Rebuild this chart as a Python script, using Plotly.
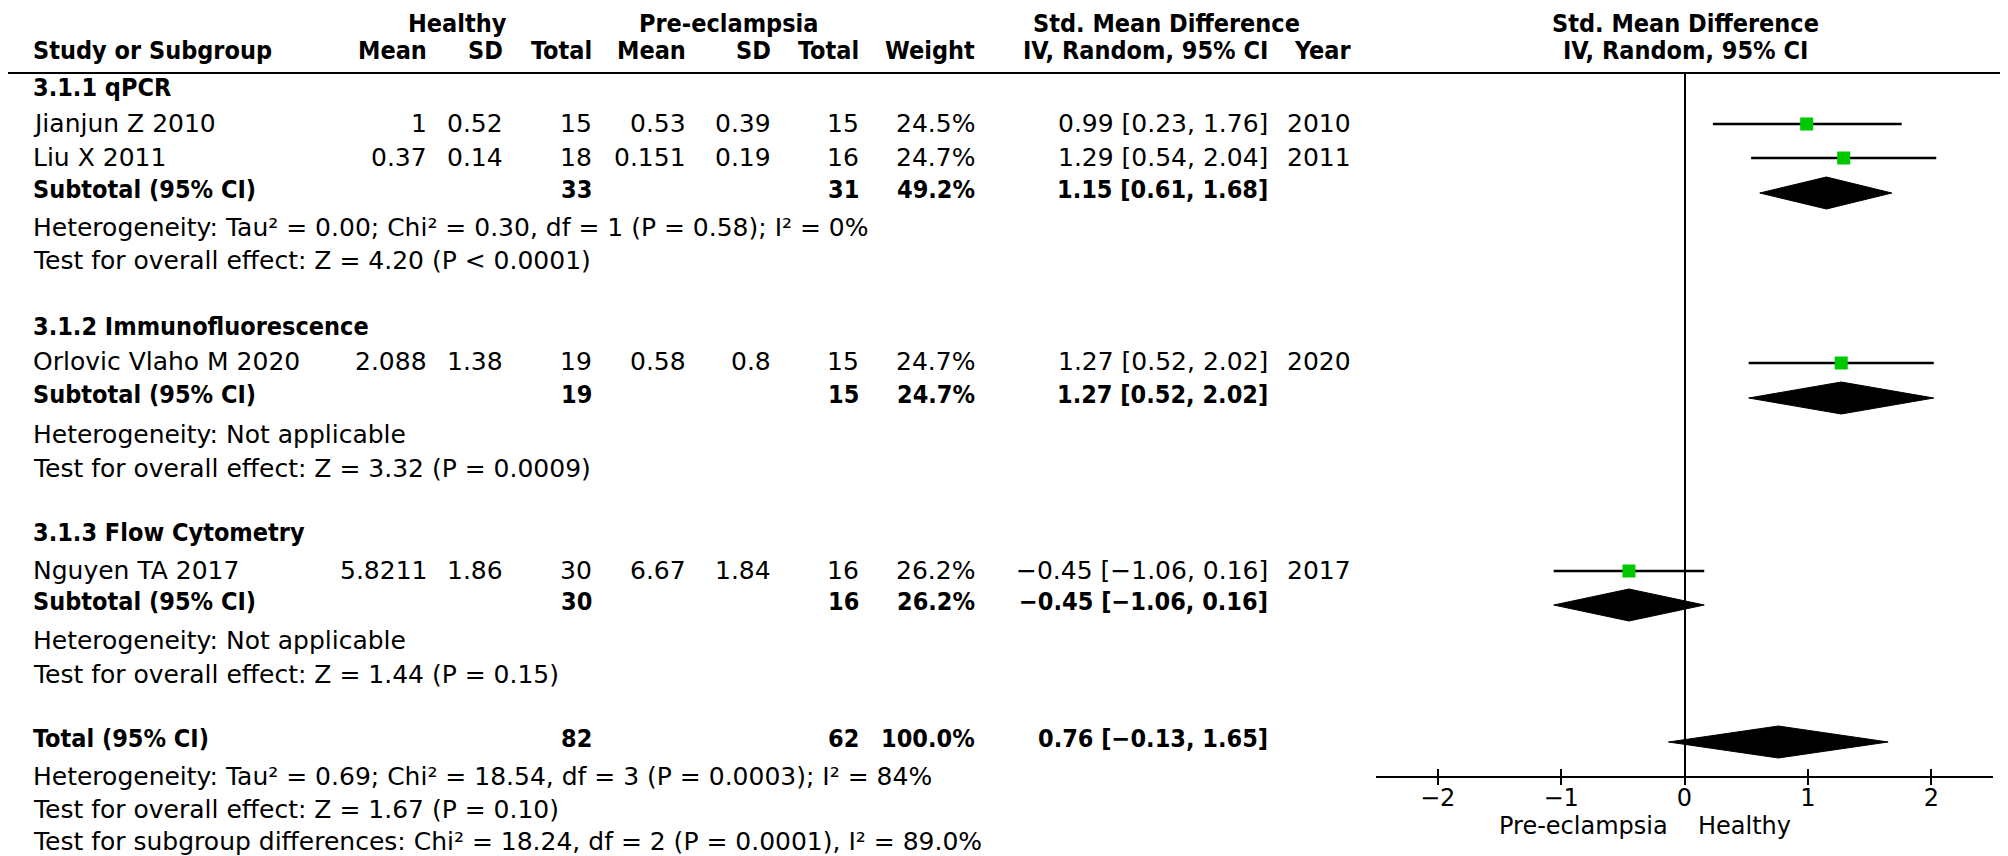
import plotly.graph_objects as go

W, H = 2008, 856
FONT = "DejaVu Sans"
BFONT = "DejaVu Sans Condensed, DejaVu Sans"

# ---------------- data ----------------
groups = ["3.1.1 qPCR", "3.1.2 Immunofluorescence", "3.1.3 Flow Cytometry"]

study = ["Jianjun Z 2010", "Liu X 2011", "Orlovic Vlaho M 2020", "Nguyen TA 2017"]
study_group = [0, 0, 1, 2]
h_mean = [1, 0.37, 2.088, 5.8211]
h_sd = [0.52, 0.14, 1.38, 1.86]
h_n = [15, 18, 19, 30]
p_mean = [0.53, 0.151, 0.58, 6.67]
p_sd = [0.39, 0.19, 0.8, 1.84]
p_n = [15, 16, 15, 16]
weight = [24.5, 24.7, 24.7, 26.2]
smd = [0.99, 1.29, 1.27, -0.45]
smd_lo = [0.23, 0.54, 0.52, -1.06]
smd_hi = [1.76, 2.04, 2.02, 0.16]
year = [2010, 2011, 2020, 2017]

sub_h_n = [33, 19, 30]
sub_p_n = [31, 15, 16]
sub_weight = [49.2, 24.7, 26.2]
sub_smd = [1.15, 1.27, -0.45]
sub_lo = [0.61, 0.52, -1.06]
sub_hi = [1.68, 2.02, 0.16]
sub_het = [
    "Heterogeneity: Tau² = 0.00; Chi² = 0.30, df = 1 (P = 0.58); I² = 0%",
    "Heterogeneity: Not applicable",
    "Heterogeneity: Not applicable",
]
sub_test = [
    "Test for overall effect: Z = 4.20 (P < 0.0001)",
    "Test for overall effect: Z = 3.32 (P = 0.0009)",
    "Test for overall effect: Z = 1.44 (P = 0.15)",
]

tot_h_n = 82
tot_p_n = 62
tot_weight = 100.0
tot_smd = 0.76
tot_lo = -0.13
tot_hi = 1.65
tot_lines = [
    "Heterogeneity: Tau² = 0.69; Chi² = 18.54, df = 3 (P = 0.0003); I² = 84%",
    "Test for overall effect: Z = 1.67 (P = 0.10)",
    "Test for subgroup differences: Chi² = 18.24, df = 2 (P = 0.0001), I² = 89.0%",
]

x_ticks = [-2, -1, 0, 1, 2]
x_labels = ["Pre-eclampsia", "Healthy"]

# ---------------- layout constants (pixels) ----------------
COL = dict(study=23, h_mean=421, h_sd=497, h_n=586, p_mean=680, p_sd=765,
           p_n=853, weight=969, ci=1262, year=1345)
HDR1_Y, HDR2_Y, LINE_Y = 19, 47, 65
AX_Y = 768
group_title_y = [83, 322, 528]
study_y = [119, 153, 358, 566]
sub_y = [185, 390, 597]
sub_het_y = [223, 430, 636]
sub_test_y = [257, 464, 670]
tot_y = 734
tot_lines_y = [772, 805, 837]
MARK_DY = -3
TEXT_DY = -4
DIA_H = 16
FS = 25


def num(v):
    return f"{v:g}"


def neg(s):
    return s.replace("-", "−")


def ci_text(e, l, h):
    return neg(f"{e:.2f} [{l:.2f}, {h:.2f}]")


ann = []


def txt(x, y, s, anchor="right", bold=False, size=FS):
    ann.append(dict(x=x / W, y=1 - (y + TEXT_DY) / H, xref="paper", yref="paper",
                    text=f"<b>{s}</b>" if bold else s, showarrow=False,
                    xanchor=anchor, yanchor="middle",
                    font=dict(size=size, family=BFONT if bold else FONT, color="black")))


# headers
txt(449, HDR1_Y, "Healthy", "center", True)
txt(720, HDR1_Y, "Pre-eclampsia", "center", True)
txt(1158, HDR1_Y, "Std. Mean Difference", "center", True)
txt(1677, HDR1_Y, "Std. Mean Difference", "center", True)
txt(COL["study"], HDR2_Y, "Study or Subgroup", "left", True)
for key, lab in [("h_mean", "Mean"), ("h_sd", "SD"), ("h_n", "Total"),
                 ("p_mean", "Mean"), ("p_sd", "SD"), ("p_n", "Total"),
                 ("weight", "Weight"), ("ci", "IV, Random, 95% CI"), ("year", "Year")]:
    txt(COL[key], HDR2_Y, lab, "right", True)
txt(1677, HDR2_Y, "IV, Random, 95% CI", "center", True)

# groups
for g, name in enumerate(groups):
    txt(COL["study"], group_title_y[g], name, "left", True)
    for i in range(len(study)):
        if study_group[i] != g:
            continue
        y = study_y[i]
        txt(COL["study"], y, study[i], "left")
        txt(COL["h_mean"], y, num(h_mean[i]))
        txt(COL["h_sd"], y, num(h_sd[i]))
        txt(COL["h_n"], y, num(h_n[i]))
        txt(COL["p_mean"], y, num(p_mean[i]))
        txt(COL["p_sd"], y, num(p_sd[i]))
        txt(COL["p_n"], y, num(p_n[i]))
        txt(COL["weight"], y, f"{weight[i]:.1f}%")
        txt(COL["ci"], y, ci_text(smd[i], smd_lo[i], smd_hi[i]))
        txt(COL["year"], y, str(year[i]))
    y = sub_y[g]
    txt(COL["study"], y, "Subtotal (95% CI)", "left", True)
    txt(COL["h_n"], y, num(sub_h_n[g]), bold=True)
    txt(COL["p_n"], y, num(sub_p_n[g]), bold=True)
    txt(COL["weight"], y, f"{sub_weight[g]:.1f}%", bold=True)
    txt(COL["ci"], y, ci_text(sub_smd[g], sub_lo[g], sub_hi[g]), bold=True)
    txt(COL["study"], sub_het_y[g], sub_het[g], "left")
    txt(COL["study"], sub_test_y[g], sub_test[g], "left")

txt(COL["study"], tot_y, "Total (95% CI)", "left", True)
txt(COL["h_n"], tot_y, num(tot_h_n), bold=True)
txt(COL["p_n"], tot_y, num(tot_p_n), bold=True)
txt(COL["weight"], tot_y, f"{tot_weight:.1f}%", bold=True)
txt(COL["ci"], tot_y, ci_text(tot_smd, tot_lo, tot_hi), bold=True)
for s, y in zip(tot_lines, tot_lines_y):
    txt(COL["study"], y, s, "left")

# axis side labels
txt(1662, 822, x_labels[0], "right", size=24)
txt(1688, 822, x_labels[1], "left", size=24)

fig = go.Figure()

# CI whiskers
cx, cy = [], []
for i in range(len(study)):
    y = study_y[i] + MARK_DY
    cx += [smd_lo[i], smd_hi[i], None]
    cy += [y, y, None]
fig.add_trace(go.Scatter(x=cx, y=cy, mode="lines", line=dict(color="black", width=2.5),
                         hoverinfo="skip", showlegend=False))
# squares
fig.add_trace(go.Scatter(x=smd, y=[y + MARK_DY for y in study_y], mode="markers",
                         marker=dict(symbol="square", size=13, color="#00C800",
                                     line=dict(width=0)),
                         hoverinfo="skip", showlegend=False))
# diamonds
dx, dy = [], []
for e, l, h, y in list(zip(sub_smd, sub_lo, sub_hi, sub_y)) + [(tot_smd, tot_lo, tot_hi, tot_y)]:
    dx += [l, e, h, e, l, None]
    dy += [y, y - DIA_H, y, y + DIA_H, y, None]
fig.add_trace(go.Scatter(x=dx, y=dy, mode="lines", fill="toself", fillcolor="black",
                         line=dict(color="black", width=1), hoverinfo="skip", showlegend=False))
# helper trace for secondary (inside) tick axis
fig.add_trace(go.Scatter(x=[0], y=[400], xaxis="x2", mode="markers",
                         marker=dict(opacity=0), hoverinfo="skip", showlegend=False))

dom = [1368 / W, 1985 / W]
fig.update_layout(
    width=W, height=H, margin=dict(l=0, r=0, t=0, b=0),
    paper_bgcolor="white", plot_bgcolor="white", showlegend=False,
    xaxis=dict(domain=dom, range=[-2.5, 2.5], showline=True, linecolor="black",
               linewidth=2, ticks="outside", ticklen=7, tickwidth=2, tickcolor="black",
               tickvals=x_ticks, tickfont=dict(size=24, family=FONT, color="black"),
               ticklabelstandoff=-8,
               zeroline=True, zerolinecolor="black", zerolinewidth=2,
               showgrid=False, anchor="y", fixedrange=True),
    xaxis2=dict(domain=dom, range=[-2.5, 2.5], overlaying="x", anchor="y", side="bottom",
                ticks="inside", ticklen=7, tickwidth=2, tickcolor="black",
                tickvals=x_ticks, showticklabels=False, showline=False,
                zeroline=False, showgrid=False, fixedrange=True),
    yaxis=dict(domain=[1 - AX_Y / H, 1 - LINE_Y / H], range=[AX_Y, LINE_Y],
               visible=False, fixedrange=True),
    shapes=[dict(type="line", xref="paper", yref="paper", x0=0, x1=1,
                 y0=1 - LINE_Y / H, y1=1 - LINE_Y / H,
                 line=dict(color="black", width=2))],
    annotations=ann,
)

fig.write_html("out.html")
